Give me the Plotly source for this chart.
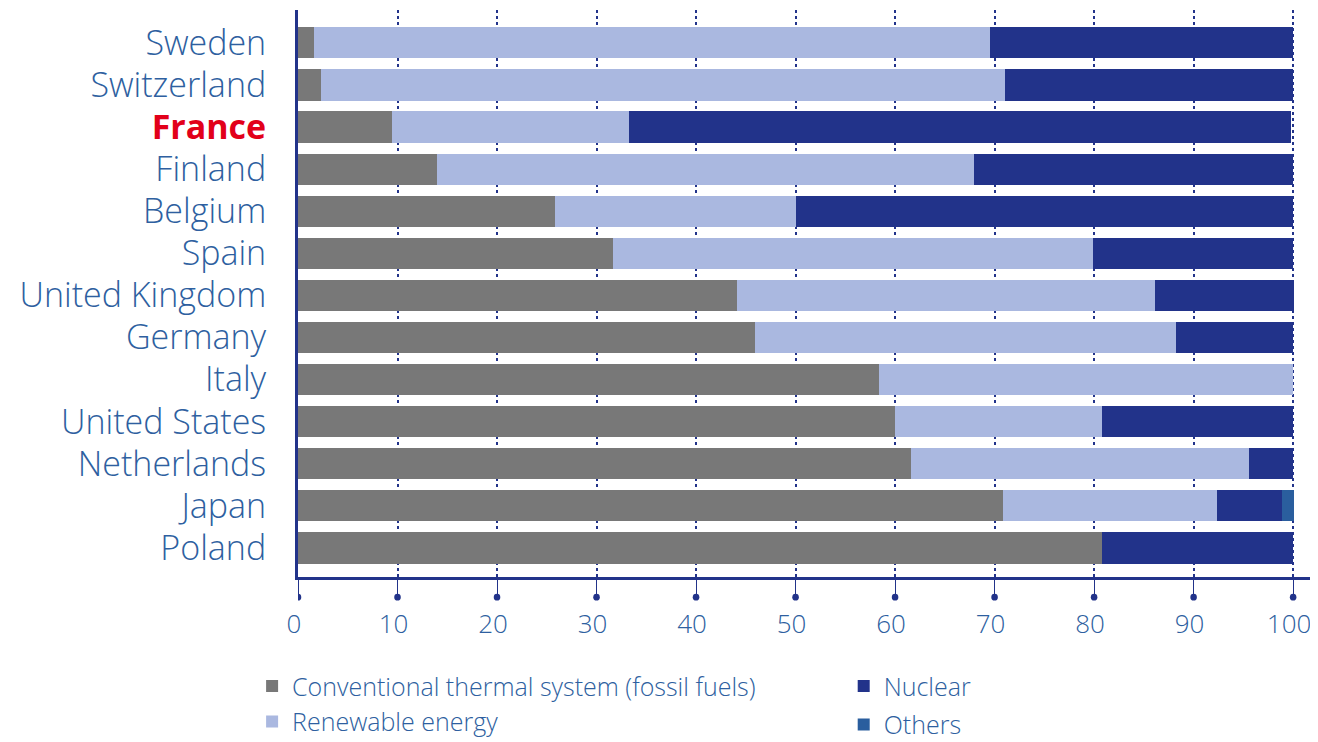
import plotly.graph_objects as go

countries = ["Poland", "Japan", "Netherlands", "United States", "Italy", "Germany",
             "United Kingdom", "Spain", "Belgium", "Finland", "France", "Switzerland", "Sweden"]
fossil =    [80.8, 70.8, 61.6, 60.0, 58.4, 45.9, 44.1, 31.7, 25.8, 14.0, 9.4, 2.3, 1.6]
renewable = [0.0, 21.6, 34.0, 20.8, 41.6, 42.3, 42.0, 48.2, 24.2, 53.9, 23.9, 68.7, 67.9]
nuclear =   [19.2, 6.5, 4.4, 19.2, 0.0, 11.8, 14.0, 20.1, 50.0, 32.1, 66.5, 29.0, 30.5]
others =    [0.0, 1.2, 0.0, 0.0, 0.0, 0.0, 0.0, 0.0, 0.0, 0.0, 0.0, 0.0, 0.0]
x_ticks = [0, 10, 20, 30, 40, 50, 60, 70, 80, 90, 100]

NAVY = "#22338a"
TXT = "#2e5fa0"
FONT = "Open Sans"

ticktext = ['<span style="color:#e2001a"><b>France</b></span>' if c == "France" else c for c in countries]

fig = go.Figure()
series = [
    ("Conventional thermal system (fossil fuels)", fossil, "#787878", "legend", "a"),
    ("Renewable energy", renewable, "#aab8e0", "legend", "a"),
    ("Nuclear", nuclear, NAVY, "legend2", "b"),
    ("Others", others, "#2a5e9e", "legend2", "c"),
]
for name, vals, col, lg, grp in series:
    fig.add_trace(go.Bar(y=countries, x=vals, name=name, orientation="h",
                         marker=dict(color=col, line=dict(width=0)), width=0.74,
                         legend=lg, legendgroup=grp))

shapes = []
for t in x_ticks:
    shapes.append(dict(type="circle", xref="x", yref="paper",
                       x0=t - 0.33, x1=t + 0.33, y0=-0.0415, y1=-0.0295,
                       fillcolor=NAVY, line=dict(width=0)))

fig.update_layout(
    barmode="stack",
    width=1318, height=734,
    margin=dict(l=290, r=8, t=2, b=165, autoexpand=False),
    plot_bgcolor="white", paper_bgcolor="white",
    font=dict(family=FONT, color=TXT),
    shapes=shapes,
    xaxis=dict(range=[0, 102.5], tickvals=x_ticks, showgrid=True, gridcolor=NAVY,
               griddash="dot", gridwidth=1.5, showline=True, linecolor=NAVY, linewidth=3,
               ticks="outside", ticklen=20, tickcolor=NAVY, tickwidth=1,
               tickfont=dict(size=26, color=TXT, family=FONT, weight=300),
               ticklabelstandoff=2, ticklabelshift=-4, ticklabeloverflow="allow",
               zeroline=False, automargin=False),
    yaxis=dict(range=[-0.69, 12.78], tickvals=countries, ticktext=ticktext,
               showline=True, linecolor=NAVY, linewidth=3, showgrid=False,
               ticks="", ticklabelstandoff=22, automargin=False,
               tickfont=dict(size=34, color=TXT, family=FONT, weight=300)),
    legend=dict(x=-0.045, y=-0.152, xanchor="left", yanchor="top", orientation="v",
                traceorder="normal",
                font=dict(size=25, color=TXT, family=FONT, weight=300),
                itemwidth=30, bgcolor="rgba(0,0,0,0)"),
    legend2=dict(x=0.535, y=-0.152, xanchor="left", yanchor="top", orientation="v",
                 traceorder="grouped", tracegroupgap=3,
                 font=dict(size=25, color=TXT, family=FONT, weight=300),
                 itemwidth=30, bgcolor="rgba(0,0,0,0)"),
    showlegend=True,
)

fig.write_html("out.html")
